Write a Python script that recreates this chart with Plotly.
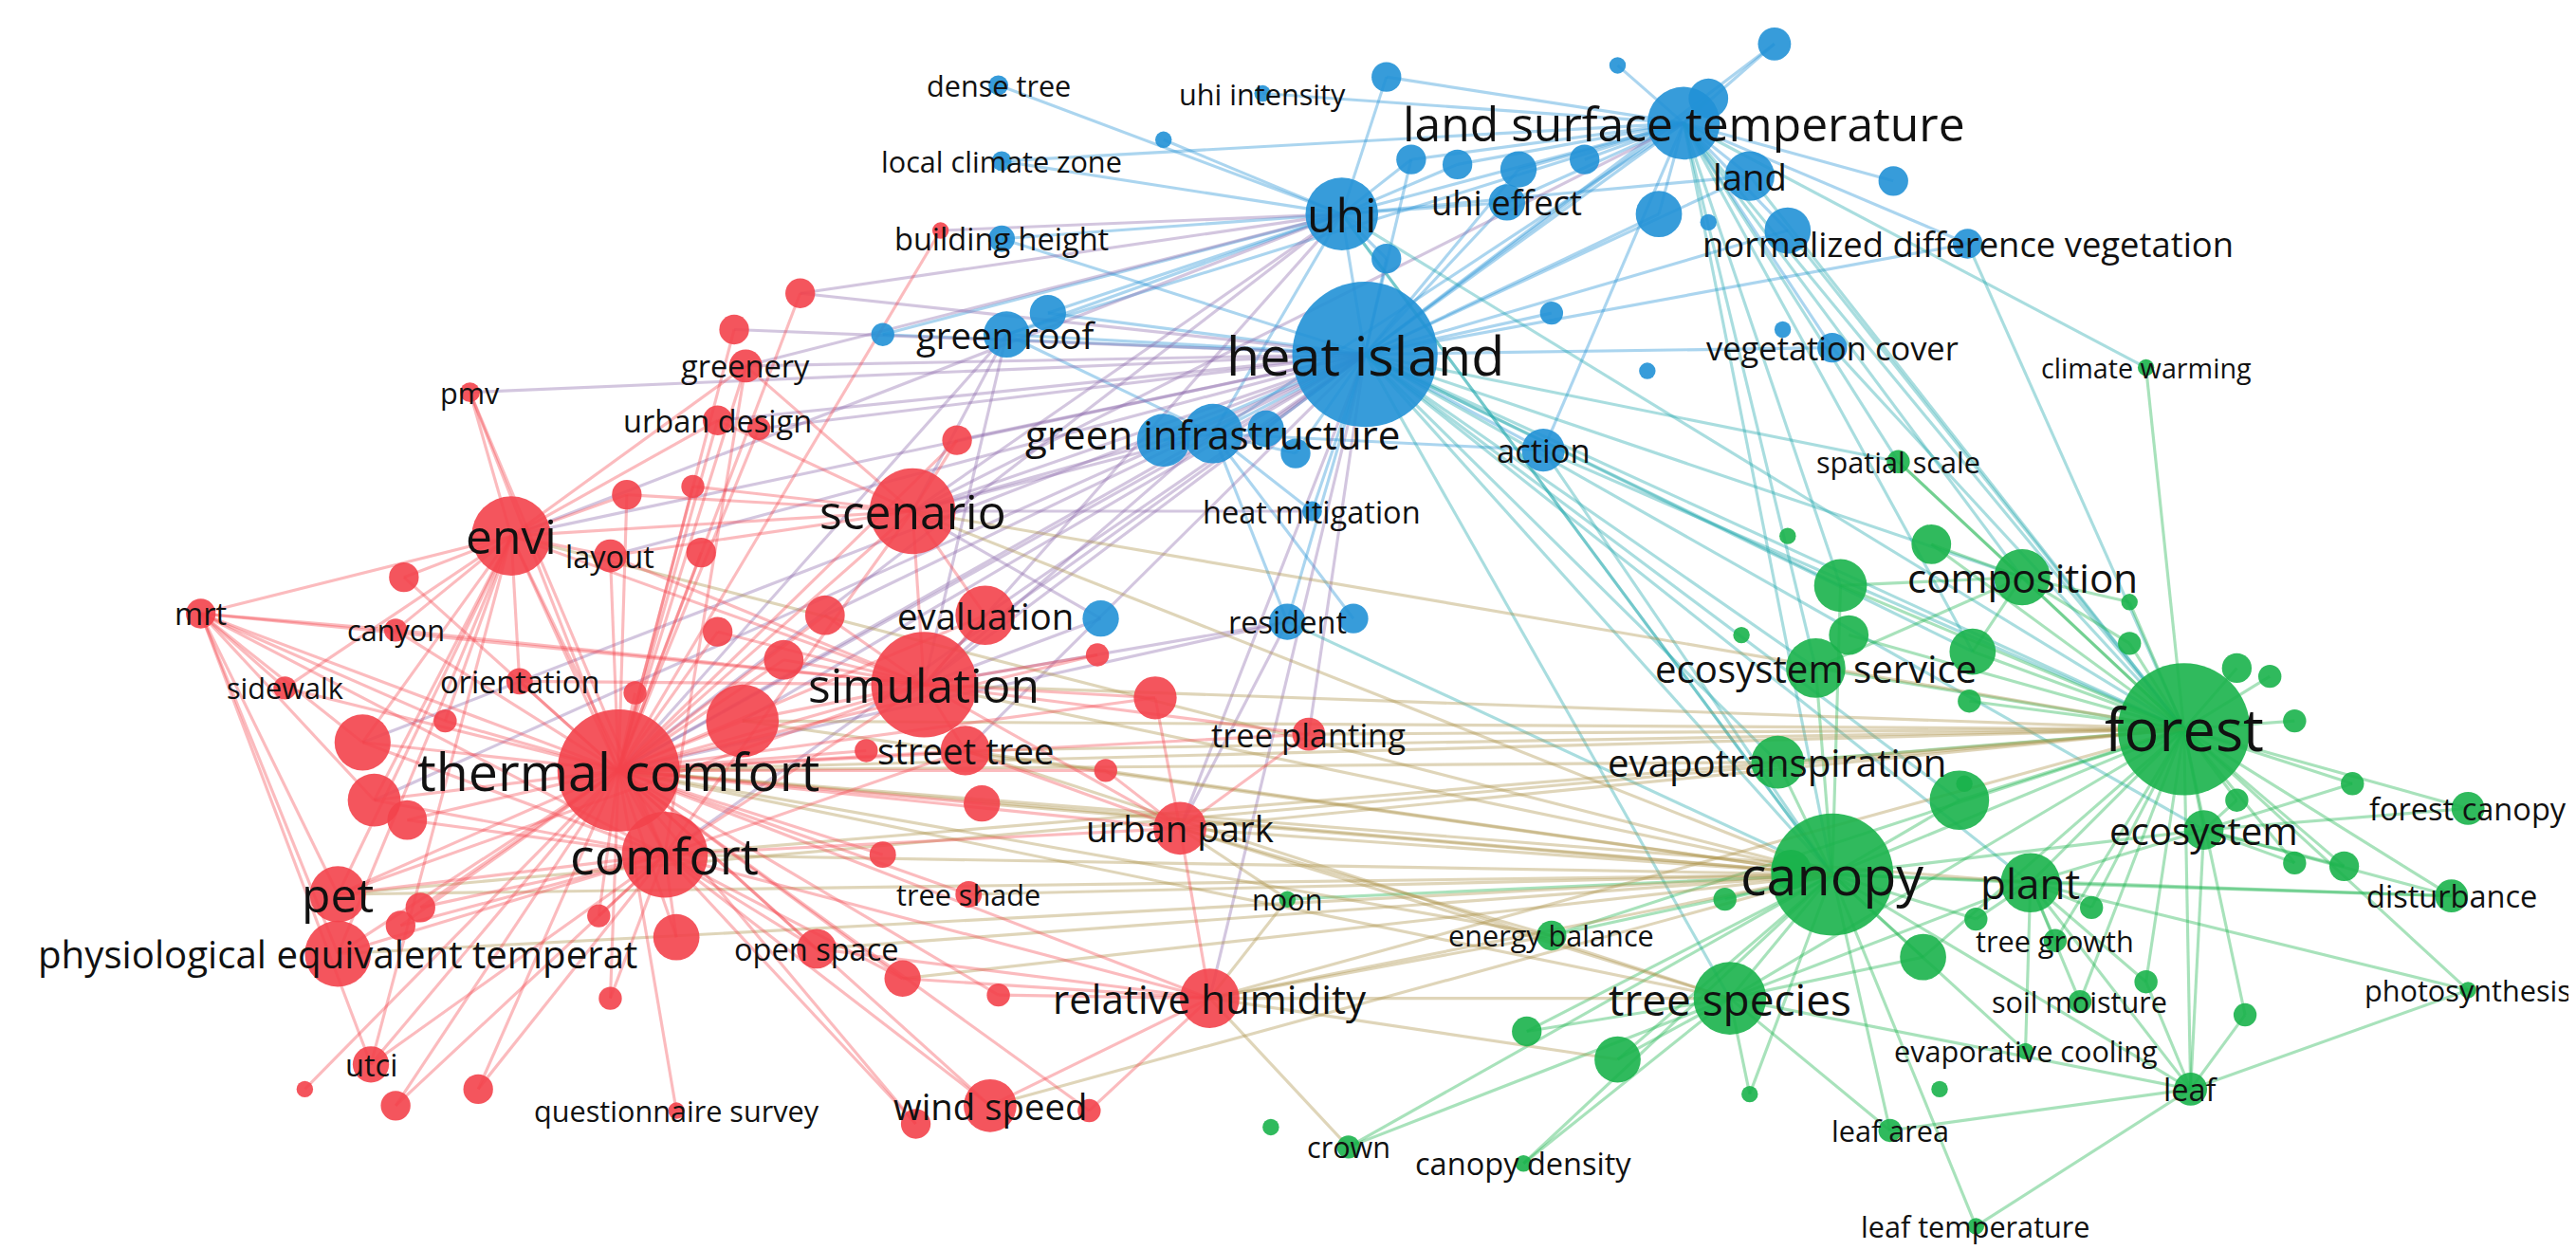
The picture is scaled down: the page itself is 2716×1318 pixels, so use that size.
import plotly.graph_objects as go

S = 2716 / 1560  # reference read at ~1560 px wide
FS = S * 1.1     # label scale

# node: id, x, y, radius, cluster, label font (0 = no label)
NODES = [
    # blue cluster
    ("heat island", 822, 210, 44, "b", 30), ("land surface temperature", 1015, 70, 22, "b", 26),
    ("uhi", 808, 125, 22, "b", 26), ("land", 1055, 102, 15, "b", 20), ("uhi effect", 908, 118, 11, "b", 19),
    ("normalized difference vegetation", 1187, 143, 9, "b", 19), ("green roof", 605, 198, 14, "b", 20),
    ("green infrastructure", 730, 258, 18, "b", 22), ("action", 930, 268, 13, "b", 18),
    ("vegetation cover", 1105, 206, 9, "b", 18), ("heat mitigation", 790, 305, 6, "b", 17),
    ("resident", 775, 372, 11, "b", 17), ("dense tree", 600, 47, 6, "b", 16),
    ("uhi intensity", 760, 52, 5, "b", 16), ("local climate zone", 602, 93, 6, "b", 16),
    ("building height", 602, 140, 8, "b", 17),
    ("b1", 1070, 22, 10, "b", 0), ("b2", 1030, 55, 12, "b", 0), ("b3", 835, 42, 9, "b", 0),
    ("b4", 850, 92, 9, "b", 0), ("b5", 878, 95, 9, "b", 0), ("b6", 915, 98, 11, "b", 0),
    ("b7", 955, 92, 9, "b", 0), ("b8", 1000, 125, 14, "b", 0), ("b9", 1078, 135, 14, "b", 0),
    ("b10", 1142, 105, 9, "b", 0), ("b11", 993, 220, 5, "b", 0), ("b12", 935, 185, 7, "b", 0),
    ("b13", 700, 262, 16, "b", 0), ("b14", 662, 370, 11, "b", 0), ("b15", 815, 370, 9, "b", 0),
    ("b16", 630, 185, 11, "b", 0), ("b17", 530, 198, 7, "b", 0), ("b18", 700, 80, 5, "b", 0),
    ("b19", 1030, 130, 5, "b", 0), ("b20", 835, 152, 9, "b", 0), ("b21", 780, 270, 9, "b", 0),
    ("b22", 975, 35, 5, "b", 0), ("b23", 762, 255, 11, "b", 0), ("b24", 1075, 195, 5, "b", 0),
    # red cluster
    ("thermal comfort", 370, 462, 37, "r", 29), ("comfort", 398, 513, 26, "r", 28),
    ("scenario", 548, 305, 26, "r", 26), ("envi", 305, 320, 24, "r", 26),
    ("simulation", 555, 410, 32, "r", 26), ("evaluation", 592, 368, 18, "r", 20),
    ("pet", 200, 537, 17, "r", 26), ("physiological equivalent temperat", 200, 573, 20, "r", 21),
    ("street tree", 580, 450, 15, "r", 20), ("tree planting", 788, 440, 10, "r", 18),
    ("urban park", 710, 497, 16, "r", 20), ("relative humidity", 728, 600, 18, "r", 22),
    ("wind speed", 595, 665, 16, "r", 20), ("open space", 490, 570, 12, "r", 17),
    ("tree shade", 582, 537, 8, "r", 16), ("layout", 365, 332, 10, "r", 17),
    ("orientation", 310, 408, 8, "r", 17), ("sidewalk", 168, 412, 7, "r", 16),
    ("canyon", 235, 377, 7, "r", 16), ("mrt", 117, 367, 9, "r", 17), ("pmv", 280, 233, 6, "r", 16),
    ("greenery", 447, 217, 10, "r", 17), ("urban design", 430, 250, 9, "r", 17),
    ("utci", 220, 640, 11, "r", 17), ("questionnaire survey", 405, 668, 5, "r", 16),
    ("r1", 445, 432, 22, "r", 0), ("r2", 215, 445, 17, "r", 0), ("r3", 222, 480, 16, "r", 0),
    ("r4", 242, 492, 12, "r", 0), ("r5", 495, 368, 12, "r", 0), ("r6", 470, 395, 12, "r", 0),
    ("r7", 430, 378, 9, "r", 0), ("r8", 380, 415, 7, "r", 0), ("r9", 265, 432, 7, "r", 0),
    ("r10", 415, 290, 7, "r", 0), ("r11", 375, 295, 9, "r", 0), ("r12", 480, 173, 9, "r", 0),
    ("r13", 440, 195, 9, "r", 0), ("r14", 565, 135, 5, "r", 0), ("r15", 575, 262, 9, "r", 0),
    ("r16", 530, 513, 8, "r", 0), ("r17", 590, 482, 11, "r", 0), ("r18", 405, 563, 14, "r", 0),
    ("r19", 358, 550, 7, "r", 0), ("r20", 250, 545, 9, "r", 0), ("r21", 235, 665, 9, "r", 0),
    ("r22", 285, 655, 9, "r", 0), ("r23", 180, 655, 5, "r", 0), ("r24", 365, 600, 7, "r", 0),
    ("r25", 542, 588, 11, "r", 0), ("r26", 550, 676, 9, "r", 0), ("r27", 655, 668, 7, "r", 0),
    ("r28", 695, 418, 13, "r", 0), ("r29", 665, 462, 7, "r", 0), ("r30", 520, 450, 7, "r", 0),
    ("r31", 240, 345, 9, "r", 0), ("r32", 420, 330, 9, "r", 0), ("r33", 455, 255, 7, "r", 0),
    ("r34", 600, 598, 7, "r", 0), ("r35", 238, 556, 9, "r", 0), ("r36", 660, 392, 7, "r", 0),
    # green cluster
    ("forest", 1318, 437, 40, "g", 32), ("canopy", 1105, 525, 37, "g", 30),
    ("ecosystem service", 1095, 400, 18, "g", 21), ("composition", 1220, 345, 17, "g", 22),
    ("evapotranspiration", 1072, 457, 16, "g", 21), ("tree species", 1043, 600, 22, "g", 24),
    ("plant", 1225, 530, 18, "g", 23), ("ecosystem", 1330, 498, 12, "g", 21),
    ("forest canopy", 1490, 485, 10, "g", 17), ("disturbance", 1480, 538, 10, "g", 17),
    ("photosynthesis", 1490, 595, 5, "g", 16), ("tree growth", 1240, 565, 7, "g", 16),
    ("soil moisture", 1255, 602, 7, "g", 16), ("evaporative cooling", 1222, 632, 5, "g", 16),
    ("leaf", 1322, 655, 10, "g", 17), ("leaf area", 1140, 680, 7, "g", 16),
    ("leaf temperature", 1192, 738, 5, "g", 16), ("crown", 812, 690, 7, "g", 16),
    ("canopy density", 918, 700, 5, "g", 17), ("noon", 775, 540, 5, "g", 16),
    ("energy balance", 935, 562, 9, "g", 16), ("spatial scale", 1145, 275, 7, "g", 16),
    ("climate warming", 1295, 218, 5, "g", 15),
    ("g1", 1110, 350, 16, "g", 0), ("g2", 1165, 325, 12, "g", 0), ("g3", 1190, 390, 14, "g", 0),
    ("g4", 1115, 380, 12, "g", 0), ("g5", 1182, 480, 18, "g", 0), ("g6", 1160, 575, 14, "g", 0),
    ("g7", 1285, 385, 7, "g", 0), ("g8", 1350, 400, 9, "g", 0), ("g9", 1370, 405, 7, "g", 0),
    ("g10", 1385, 432, 7, "g", 0), ("g11", 1415, 520, 9, "g", 0), ("g12", 1385, 518, 7, "g", 0),
    ("g13", 1355, 610, 7, "g", 0), ("g14", 1295, 590, 7, "g", 0), ("g15", 1262, 545, 7, "g", 0),
    ("g16", 1188, 420, 7, "g", 0), ("g17", 1192, 552, 7, "g", 0), ("g18", 1078, 320, 5, "g", 0),
    ("g19", 1050, 380, 5, "g", 0), ("g20", 975, 637, 14, "g", 0), ("g21", 920, 620, 9, "g", 0),
    ("g22", 1055, 658, 5, "g", 0), ("g23", 765, 678, 5, "g", 0), ("g24", 1170, 655, 5, "g", 0),
    ("g25", 1185, 470, 5, "g", 0), ("g26", 1350, 480, 7, "g", 0), ("g27", 1285, 360, 5, "g", 0),
    ("g28", 1080, 522, 12, "g", 0), ("g29", 1040, 540, 7, "g", 0), ("g30", 1420, 470, 7, "g", 0),
]

# hub -> neighbours
LINKS = {
    "heat island": ["land surface temperature", "uhi", "land", "uhi effect", "normalized difference vegetation",
                    "green roof", "green infrastructure", "action", "vegetation cover", "heat mitigation",
                    "resident", "building height", "b1", "b2", "b4", "b6", "b8", "b9", "b12", "b13", "b16",
                    "b17", "b20", "b21", "b23", "scenario", "simulation", "thermal comfort", "envi",
                    "evaluation", "greenery", "urban design", "comfort", "street tree", "r1", "r5", "r12",
                    "r13", "r15", "r33", "pmv", "layout", "forest", "canopy", "ecosystem service",
                    "composition", "evapotranspiration", "tree species", "plant", "spatial scale", "g1",
                    "g3", "g5", "ecosystem", "urban park", "tree planting", "relative humidity", "r2", "r3"],
    "land surface temperature": ["uhi", "land", "b1", "b2", "b3", "b6", "b7", "b8", "b9", "b10", "b22",
                                 "normalized difference vegetation", "uhi intensity", "local climate zone",
                                 "uhi effect", "vegetation cover", "forest", "canopy", "composition",
                                 "spatial scale", "climate warming", "g1", "g3", "ecosystem service", "action",
                                 "green infrastructure", "b4", "b5", "green roof", "scenario"],
    "uhi": ["uhi effect", "land", "b3", "b4", "b5", "local climate zone", "dense tree", "building height",
            "green roof", "green infrastructure", "scenario", "envi", "greenery", "simulation", "thermal comfort",
            "b16", "b17", "b18", "r12", "r14", "canopy", "forest", "b20"],
    "forest": ["canopy", "ecosystem service", "composition", "evapotranspiration", "tree species", "plant",
               "ecosystem", "forest canopy", "disturbance", "photosynthesis", "tree growth", "soil moisture",
               "leaf", "g1", "g2", "g3", "g4", "g5", "g6", "g7", "g8", "g9", "g10", "g11", "g12", "g13",
               "g14", "g15", "g16", "g26", "g27", "g30", "climate warming", "spatial scale", "land",
               "normalized difference vegetation", "b9", "simulation", "thermal comfort", "comfort",
               "scenario", "urban park", "relative humidity", "street tree", "action", "vegetation cover",
               "energy balance", "tree planting", "r1", "pet"],
    "canopy": ["tree species", "plant", "evapotranspiration", "ecosystem service", "leaf area",
               "leaf temperature", "crown", "canopy density", "energy balance", "noon", "g6", "g17", "g20",
               "g21", "g22", "g28", "g29", "g5", "g1", "ecosystem", "disturbance", "leaf",
               "evaporative cooling", "thermal comfort", "comfort", "simulation", "street tree", "urban park",
               "relative humidity", "wind speed", "pet", "physiological equivalent temperat", "open space",
               "tree shade", "r1", "r17", "r25", "scenario", "envi", "resident", "action", "uhi"],
    "thermal comfort": ["comfort", "scenario", "envi", "simulation", "evaluation", "pet",
                        "physiological equivalent temperat", "street tree", "urban park", "relative humidity",
                        "wind speed", "open space", "tree shade", "layout", "orientation", "sidewalk", "canyon",
                        "mrt", "pmv", "greenery", "urban design", "utci", "questionnaire survey"]
                       + ["r%d" % i for i in range(1, 37)] + ["green roof", "green infrastructure", "resident",
                                                              "tree planting", "tree species", "evapotranspiration",
                                                              "energy balance", "plant"],
    "comfort": ["scenario", "envi", "simulation", "pet", "physiological equivalent temperat", "utci", "mrt",
                "wind speed", "relative humidity", "open space", "urban park", "street tree", "r2", "r3", "r4",
                "r18", "r19", "r20", "r21", "r22", "r24", "r25", "r26", "r35", "pmv", "greenery"],
    "simulation": ["scenario", "envi", "evaluation", "layout", "orientation", "street tree", "r1", "r5", "r6",
                   "r7", "r28", "r36", "urban park", "tree planting", "green infrastructure", "green roof",
                   "resident", "b14", "mrt", "pet", "canyon"],
    "scenario": ["envi", "evaluation", "layout", "greenery", "urban design", "r10", "r11", "r15", "green roof",
                 "green infrastructure", "b13", "heat mitigation", "b14"],
    "envi": ["pmv", "mrt", "canyon", "sidewalk", "layout", "orientation", "greenery", "urban design", "r2",
             "r3", "r9", "r31", "r11", "pet", "physiological equivalent temperat", "utci"],
    "mrt": ["pet", "physiological equivalent temperat", "r2", "r3", "sidewalk", "canyon", "utci", "r9"],
    "relative humidity": ["wind speed", "urban park", "open space", "r25", "r27", "r34", "energy balance",
                          "tree species", "g20", "noon", "crown"],
    "tree species": ["g20", "g21", "leaf area", "plant", "g6", "crown", "canopy density", "urban park",
                     "street tree", "g22", "leaf"],
    "plant": ["ecosystem", "tree growth", "soil moisture", "evaporative cooling", "leaf", "g15", "g17", "g14",
              "photosynthesis", "disturbance"],
    "ecosystem": ["forest canopy", "disturbance", "g11", "g12", "g26", "g30", "leaf"],
    "leaf": ["leaf temperature", "leaf area", "g13", "g14", "photosynthesis"],
    "composition": ["g1", "g2", "g3", "spatial scale", "ecosystem service", "g27", "g7"],
    "green infrastructure": ["green roof", "b13", "b21", "b23", "action", "resident", "b15", "heat mitigation"],
    "urban park": ["tree planting", "r28", "r29", "street tree", "noon", "energy balance", "resident"],
}

COLORS = {"r": "#f3434b", "b": "#2191d6", "g": "#1ab24b"}
EDGE_COLORS = {
    "rr": "rgba(243,67,75,0.36)", "bb": "rgba(33,145,214,0.38)", "gg": "rgba(26,178,75,0.38)",
    "br": "rgba(140,105,170,0.38)", "gr": "rgba(170,145,70,0.38)", "bg": "rgba(30,165,170,0.38)",
}

pos = {n[0]: n for n in NODES}

fig = go.Figure()

groups = {}
for hub, nbrs in LINKS.items():
    for nb in nbrs:
        if nb == hub or nb not in pos:
            continue
        a, b = pos[hub], pos[nb]
        key = "".join(sorted(a[4] + b[4]))
        xs, ys = groups.setdefault(key, ([], []))
        xs += [a[1], b[1], None]
        ys += [a[2], b[2], None]

for key, (xs, ys) in groups.items():
    fig.add_trace(go.Scatter(x=xs, y=ys, mode="lines", hoverinfo="skip",
                             line=dict(color=EDGE_COLORS[key], width=1.8 * S)))

for cl in ["r", "g", "b"]:
    sub = [n for n in NODES if n[4] == cl]
    fig.add_trace(go.Scatter(
        x=[n[1] for n in sub], y=[n[2] for n in sub], mode="markers",
        marker=dict(size=[2 * n[3] * S for n in sub], color=COLORS[cl], opacity=0.9, line=dict(width=0)),
        hovertext=[n[0] for n in sub], hoverinfo="text"))

for n in NODES:
    if n[5]:
        fig.add_annotation(x=n[1], y=n[2], text=n[0], showarrow=False,
                           font=dict(family="Open Sans", size=n[5] * FS, color="#111"))

fig.update_layout(
    width=2716, height=1318, showlegend=False, plot_bgcolor="white", paper_bgcolor="white",
    margin=dict(l=0, r=0, t=0, b=0),
)
fig.update_xaxes(range=[0, 1560], visible=False)
fig.update_yaxes(range=[757, 0], visible=False)

fig.write_html("out.html")
